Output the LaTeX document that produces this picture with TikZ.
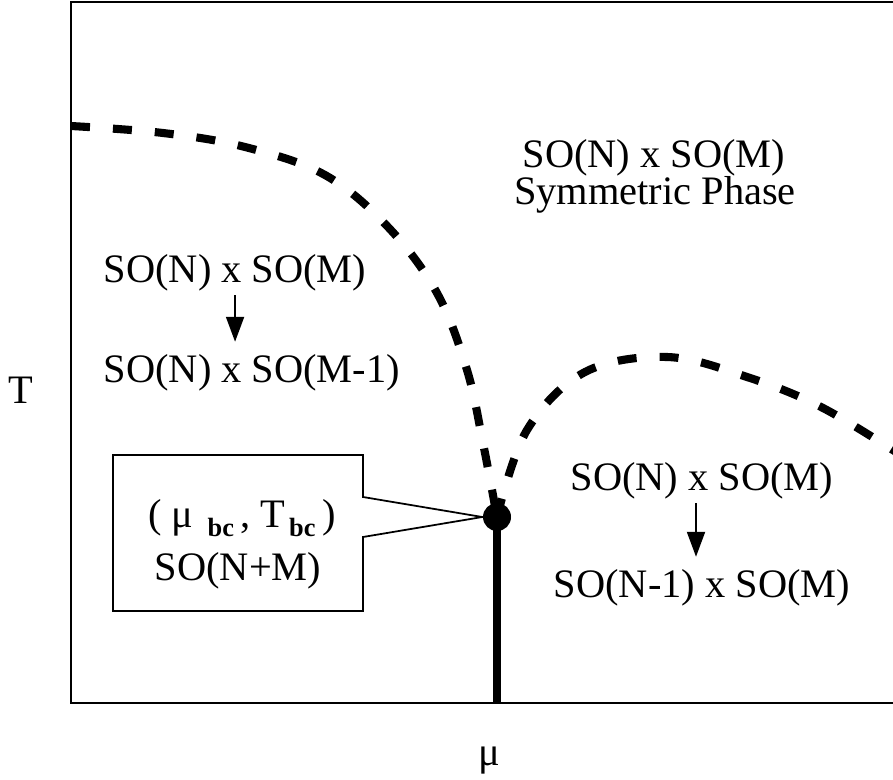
\documentclass[tikz,border=0pt]{standalone}
\usepackage{fontspec}
\setmainfont{Liberation Serif}
\usetikzlibrary{arrows.meta}
\newcommand{\bcsub}{\raisebox{-2.6pt}{\fontsize{7.5}{8}\selectfont\bfseries bc}}

\begin{document}
\begin{tikzpicture}[
  font=\fontsize{11.5}{14}\selectfont,
  lbl/.style={inner sep=0pt, anchor=base},
  lblw/.style={inner sep=0pt, anchor=base west},
  phase/.style={line width=2.3pt, dash pattern=on 1.9mm off 2.3mm},
  brk/.style={-{Triangle[length=2.5mm,width=1.8mm]}, line width=0.6pt, shorten <=0.4mm, shorten >=1.15mm},
  frame/.style={line width=0.5pt}
]

% Page size (the frame runs off the right edge)
\path[use as bounding box, clip] (0,0) rectangle (8.93,7.79);

% Frame
\draw[frame] (0.71,0.76) rectangle (9.2,7.77);

% Axis labels
\node[lbl] (tlab) at (0.21,3.76) {T};
\node[lbl] (mulab) at (4.89,0.14) {μ};

% Phase boundaries
\draw[phase] plot[smooth, tension=0.6] coordinates {
(0.71,6.53) (1.63,6.46) (2.45,6.32) (3.25,6.04) (3.88,5.52)
(4.37,4.86) (4.67,4.09) (4.83,3.36) (4.97,2.62)
};
\draw[phase] plot[smooth, tension=0.6] coordinates {
(4.97,2.62) (5.27,3.49) (5.85,4.07) (6.67,4.22) (7.47,4.02)
(8.23,3.71) (9.10,3.18)
};

% Callout for the bicritical point
\node[circle, fill, inner sep=0pt, minimum size=2.8mm] (bc) at (4.97,2.62) {};
\draw[frame] (1.13,3.24) -- (3.63,3.24) -- (3.63,2.82) -- (bc.west)
  -- (3.63,2.42) -- (3.63,1.68) -- (1.13,1.68) -- cycle;
\node[lbl] (bcpt) at (2.42,2.52) {( μ\kern4pt\bcsub\,, T\kern1pt\bcsub\,)};
\node[lbl] (bcgrp) at (2.38,1.99) {SO(N+M)};

% First order line
\coordinate (mubot) at (4.97,0.76);
\draw[line width=2pt] (bc.center) -- (mubot);

% Symmetric phase
\node[lbl] (sym) at (6.54,6.11) {SO(N) x SO(M)};
\node[lbl] (symph) at (6.55,5.74) {Symmetric Phase};

% Left broken phase
\node[lblw] (lsym) at (1.03,4.97) {SO(N) x SO(M)};
\node[lblw] (lbrk) at (1.03,3.97) {SO(N) x SO(M-1)};
\draw[brk] (lsym.south) -- (lsym.south |- lbrk.north);

% Right broken phase
\node[lbl] (rsym) at (7.02,2.89) {SO(N) x SO(M)};
\node[lbl] (rbrk) at (7.02,1.82) {SO(N-1) x SO(M)};
\draw[brk] ([xshift=-0.6mm]rsym.south) -- ([xshift=-0.6mm]rsym.south |- rbrk.north);

\end{tikzpicture}
\end{document}
